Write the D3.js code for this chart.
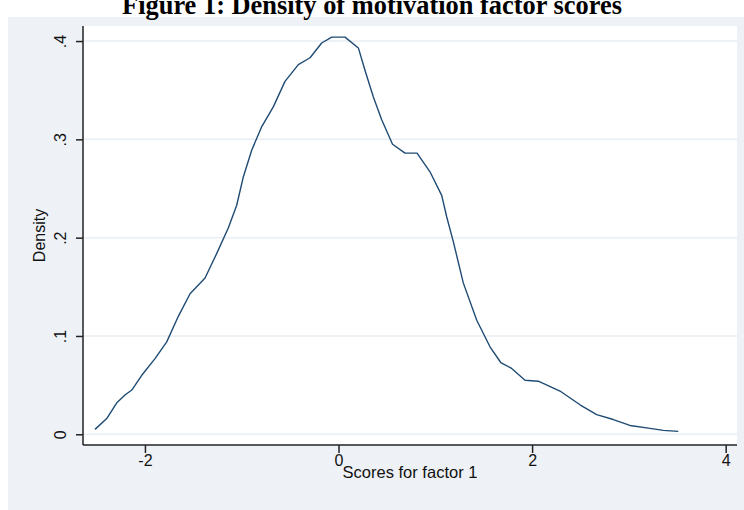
<!DOCTYPE html>
<html>
<head>
<meta charset="utf-8">
<script src="https://cdn.jsdelivr.net/npm/d3@7"></script>
<style>
  html, body { margin: 0; padding: 0; background: #ffffff; }
  svg { display: block; }
</style>
</head>
<body>
<div id="chart"></div>
<script>
// ---- Data ----
const titleText = "Figure 1: Density of motivation factor scores";
const xLabel = "Scores for factor 1";
const yLabel = "Density";
const xTicks = [-2, 0, 2, 4];
const yTicks = [0, 0.1, 0.2, 0.3, 0.4];
const scores = [
  -2.516, -2.395, -2.291, -2.206, -2.136, -2.033, -1.896, -1.775, -1.655, -1.534,
  -1.379, -1.258, -1.138, -1.052, -0.983, -0.897, -0.793, -0.674, -0.553, -0.415,
  -0.294, -0.174, -0.070, 0.067, 0.205, 0.274, 0.360, 0.446, 0.558, 0.687,
  0.811, 0.945, 1.066, 1.118, 1.186, 1.289, 1.428, 1.565, 1.676, 1.789,
  1.927, 2.064, 2.288, 2.495, 2.667, 2.839, 3.011, 3.218, 3.355, 3.510
];
const density = [
  0.005, 0.016, 0.032, 0.040, 0.045, 0.060, 0.077, 0.094, 0.120, 0.143,
  0.159, 0.184, 0.210, 0.233, 0.262, 0.289, 0.313, 0.333, 0.359, 0.376,
  0.383, 0.398, 0.404, 0.404, 0.393, 0.370, 0.343, 0.320, 0.295, 0.286,
  0.286, 0.267, 0.243, 0.221, 0.196, 0.154, 0.116, 0.089, 0.073, 0.067,
  0.055, 0.054, 0.044, 0.030, 0.020, 0.015, 0.009, 0.006, 0.004, 0.003
];

// ---- Layout ----
const W = 744, H = 510;
const plot = { left: 83, right: 737, top: 26, bottom: 445 };

const svg = d3.select("#chart").append("svg")
  .attr("width", W).attr("height", H);

// graph region (light bluish gray)
svg.append("rect")
  .attr("x", 8).attr("y", 17).attr("width", W - 8).attr("height", H - 17)
  .attr("fill", "#eef1f6");

// plot region
svg.append("rect")
  .attr("x", plot.left).attr("y", plot.top)
  .attr("width", plot.right - plot.left).attr("height", plot.bottom - plot.top)
  .attr("fill", "#ffffff");

const x = d3.scaleLinear().domain([-2.64, 4.117]).range([plot.left, plot.right]);
const y = d3.scaleLinear().domain([-0.0109, 0.4153]).range([plot.bottom, plot.top]);

// gridlines
svg.append("g").selectAll("line").data(yTicks).join("line")
  .attr("x1", plot.left).attr("x2", plot.right)
  .attr("y1", d => y(d)).attr("y2", d => y(d))
  .attr("stroke", "#e8eef5").attr("stroke-width", 1.5);

// density line
const line = d3.line().x((d, i) => x(scores[i])).y(d => y(d));
svg.append("path")
  .datum(density)
  .attr("d", line)
  .attr("fill", "none")
  .attr("stroke", "#1f4b74")
  .attr("stroke-width", 1.4)
  .attr("stroke-linejoin", "round");

const font = "'Liberation Sans', Arial, sans-serif";

// x axis
const xAxis = svg.append("g")
  .attr("transform", `translate(0,${plot.bottom})`)
  .call(d3.axisBottom(x).tickValues(xTicks).tickSize(8).tickPadding(2)
        .tickFormat(d3.format("d")));
xAxis.select(".domain").attr("stroke", "#222").attr("stroke-width", 1.5)
  .attr("d", `M${plot.left},0H${plot.right}`);
xAxis.selectAll(".tick line").attr("stroke", "#222").attr("stroke-width", 1.5);
xAxis.selectAll(".tick text").attr("fill", "#111")
  .style("font-family", font).style("font-size", "16px")
  .text(d => d < 0 ? "-" + Math.abs(d) : String(d));

// y axis
const yAxis = svg.append("g")
  .attr("transform", `translate(${plot.left},0)`)
  .call(d3.axisLeft(y).tickValues(yTicks).tickSize(7)
        .tickFormat(d => d === 0 ? "0" : d3.format(".1f")(d).replace(/^0/, "")));
yAxis.select(".domain").attr("stroke", "#222").attr("stroke-width", 1.5)
  .attr("d", `M0,${plot.top}V${plot.bottom}`);
yAxis.selectAll(".tick line").attr("stroke", "#222").attr("stroke-width", 1.5);
yAxis.selectAll(".tick text")
  .attr("x", null).attr("dy", null)
  .attr("fill", "#111")
  .attr("text-anchor", "middle")
  .attr("transform", "translate(-17,0) rotate(-90)")
  .attr("y", 0)
  .style("font-family", font).style("font-size", "16px");

// axis titles
svg.append("text")
  .attr("x", (plot.left + plot.right) / 2).attr("y", 478)
  .attr("text-anchor", "middle")
  .style("font-family", font).style("font-size", "16.5px").attr("fill", "#111")
  .text(xLabel);

svg.append("text")
  .attr("transform", `translate(45,${(plot.top + plot.bottom) / 2}) rotate(-90)`)
  .attr("text-anchor", "middle")
  .style("font-family", font).style("font-size", "16px").attr("fill", "#111")
  .text(yLabel);

// title
const title = svg.append("text")
  .attr("x", 372).attr("y", 14)
  .attr("text-anchor", "middle")
  .style("font-family", "'Liberation Serif', 'Times New Roman', serif")
  .style("font-weight", "bold").style("font-size", "22px").attr("fill", "#000")
  .text(titleText);
const tw = title.node().getComputedTextLength();
title.style("font-size", (22 * 500 / tw).toFixed(2) + "px");
</script>
</body>
</html>
